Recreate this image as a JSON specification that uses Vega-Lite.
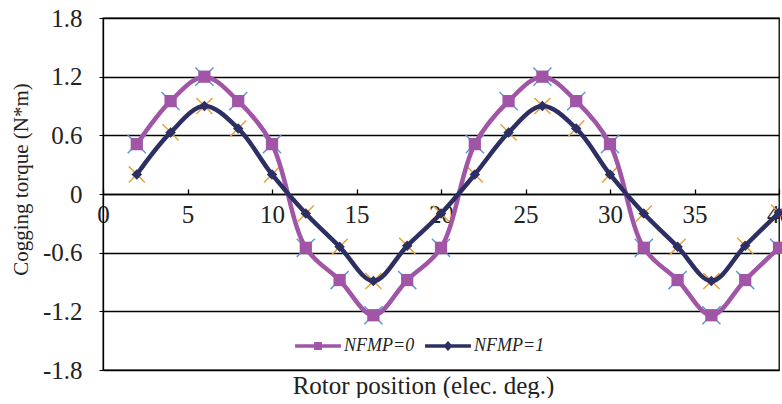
{
  "$schema": "https://vega.github.io/schema/vega-lite/v6.json",
  "width": 676,
  "height": 352,
  "padding": {"left": 10, "top": 6, "right": 0, "bottom": 0},
  "background": "white",
  "config": {
    "font": "Liberation Serif",
    "view": {"stroke": "black", "strokeWidth": 1.3}
  },
  "data": {
    "values": [
      {"position": 2, "series": "NFMP=0", "torque": 0.51},
      {"position": 4, "series": "NFMP=0", "torque": 0.95},
      {"position": 6, "series": "NFMP=0", "torque": 1.2},
      {"position": 8, "series": "NFMP=0", "torque": 0.95},
      {"position": 10, "series": "NFMP=0", "torque": 0.51},
      {"position": 12, "series": "NFMP=0", "torque": -0.55},
      {"position": 14, "series": "NFMP=0", "torque": -0.88},
      {"position": 16, "series": "NFMP=0", "torque": -1.24},
      {"position": 18, "series": "NFMP=0", "torque": -0.88},
      {"position": 20, "series": "NFMP=0", "torque": -0.55},
      {"position": 22, "series": "NFMP=0", "torque": 0.51},
      {"position": 24, "series": "NFMP=0", "torque": 0.95},
      {"position": 26, "series": "NFMP=0", "torque": 1.2},
      {"position": 28, "series": "NFMP=0", "torque": 0.95},
      {"position": 30, "series": "NFMP=0", "torque": 0.51},
      {"position": 32, "series": "NFMP=0", "torque": -0.55},
      {"position": 34, "series": "NFMP=0", "torque": -0.88},
      {"position": 36, "series": "NFMP=0", "torque": -1.24},
      {"position": 38, "series": "NFMP=0", "torque": -0.88},
      {"position": 40, "series": "NFMP=0", "torque": -0.55},
      {"position": 2, "series": "NFMP=1", "torque": 0.2},
      {"position": 4, "series": "NFMP=1", "torque": 0.63},
      {"position": 6, "series": "NFMP=1", "torque": 0.9},
      {"position": 8, "series": "NFMP=1", "torque": 0.67},
      {"position": 10, "series": "NFMP=1", "torque": 0.2},
      {"position": 12, "series": "NFMP=1", "torque": -0.2},
      {"position": 14, "series": "NFMP=1", "torque": -0.54},
      {"position": 16, "series": "NFMP=1", "torque": -0.89},
      {"position": 18, "series": "NFMP=1", "torque": -0.53},
      {"position": 20, "series": "NFMP=1", "torque": -0.2},
      {"position": 22, "series": "NFMP=1", "torque": 0.2},
      {"position": 24, "series": "NFMP=1", "torque": 0.63},
      {"position": 26, "series": "NFMP=1", "torque": 0.9},
      {"position": 28, "series": "NFMP=1", "torque": 0.67},
      {"position": 30, "series": "NFMP=1", "torque": 0.2},
      {"position": 32, "series": "NFMP=1", "torque": -0.2},
      {"position": 34, "series": "NFMP=1", "torque": -0.54},
      {"position": 36, "series": "NFMP=1", "torque": -0.89},
      {"position": 38, "series": "NFMP=1", "torque": -0.53},
      {"position": 40, "series": "NFMP=1", "torque": -0.19}
    ]
  },
  "encoding": {
    "x": {
      "field": "position",
      "type": "quantitative",
      "scale": {"domain": [0, 40], "nice": false, "zero": false},
      "axis": {
        "title": "Rotor position (elec. deg.)",
        "values": [0, 5, 10, 15, 20, 25, 30, 35, 40],
        "offset": -176,
        "grid": false,
        "domainColor": "black",
        "domainWidth": 1.3,
        "tickColor": "black",
        "tickWidth": 1.3,
        "tickSize": -5,
        "labelPadding": 13,
        "labelFlush": false,
        "labelFont": "Liberation Serif",
        "labelFontSize": 25,
        "labelColor": "#222222",
        "titleFont": "Liberation Serif",
        "titleFontSize": 25,
        "titleFontWeight": "normal",
        "titleColor": "#222222",
        "titleBaseline": "top",
        "titleX": 320,
        "titleY": 179
      }
    },
    "y": {
      "field": "torque",
      "type": "quantitative",
      "scale": {"domain": [-1.8, 1.8], "nice": false, "zero": false},
      "axis": {
        "title": "Cogging torque (N*m)",
        "values": [-1.8, -1.2, -0.6, 0, 0.6, 1.2, 1.8],
        "labelExpr": "toString(datum.value)",
        "grid": true,
        "gridColor": "black",
        "gridOpacity": 1,
        "gridWidth": 1.3,
        "domainColor": "black",
        "domainWidth": 1.3,
        "tickColor": "black",
        "tickSize": 4,
        "labelPadding": 17,
        "labelFont": "Liberation Serif",
        "labelFontSize": 25,
        "labelColor": "#222222",
        "titleFont": "Liberation Serif",
        "titleFontSize": 21,
        "titleFontWeight": "normal",
        "titleColor": "#222222",
        "titlePadding": 11,
        "titleY": 161
      }
    }
  },
  "layer": [
    {
      "transform": [{"filter": "datum.series === 'NFMP=0'"}],
      "mark": {"type": "point", "shape": "M-1,-1L1,1M-1,1L1,-1", "filled": false, "stroke": "#5B9BD5", "strokeWidth": 1.5, "size": 330, "opacity": 1}
    },
    {
      "transform": [{"filter": "datum.series === 'NFMP=1'"}],
      "mark": {"type": "point", "shape": "M-1,-1L1,1M-1,1L1,-1", "filled": false, "stroke": "#E8A33A", "strokeWidth": 1.5, "size": 260, "opacity": 1}
    },
    {
      "transform": [{"filter": "datum.series === 'NFMP=0'"}],
      "mark": {"type": "line", "interpolate": "catmull-rom", "color": "#A055A6", "strokeWidth": 4.5}
    },
    {
      "transform": [{"filter": "datum.series === 'NFMP=1'"}],
      "mark": {"type": "line", "interpolate": "catmull-rom", "color": "#2D2F62", "strokeWidth": 4.5}
    },
    {
      "transform": [{"filter": "datum.series === 'NFMP=0'"}],
      "mark": {"type": "point", "shape": "square", "filled": true, "color": "#A055A6", "size": 150, "opacity": 1}
    },
    {
      "transform": [{"filter": "datum.series === 'NFMP=1'"}],
      "mark": {"type": "point", "shape": "diamond", "filled": true, "color": "#2D2F62", "size": 110, "opacity": 1}
    },
    {
      "mark": {"type": "point", "filled": true, "opacity": 0},
      "encoding": {
        "color": {
          "field": "series",
          "type": "nominal",
          "scale": {"domain": ["NFMP=0", "NFMP=1"], "range": ["#A055A6", "#2D2F62"]},
          "legend": {
            "orient": "none",
            "direction": "horizontal",
            "legendX": 192,
            "legendY": 305,
            "title": null,
            "symbolSize": 2100,
            "symbolOpacity": 1,
            "symbolStrokeWidth": 0,
            "labelFont": "Liberation Serif",
            "labelFontSize": 18,
            "labelFontStyle": "italic",
            "labelColor": "#222222",
            "labelOffset": 3,
            "columnPadding": 10
          }
        },
        "shape": {
          "field": "series",
          "type": "nominal",
          "scale": {
            "domain": ["NFMP=0", "NFMP=1"],
            "range": [
              "M-1,-0.075H1V0.075H-1Z M-0.17,-0.17H0.17V0.17H-0.17Z",
              "M-1,-0.075H1V0.075H-1Z M0,-0.22L0.2,0L0,0.22L-0.2,0Z"
            ]
          },
          "legend": {
            "orient": "none",
            "direction": "horizontal",
            "legendX": 192,
            "legendY": 305,
            "title": null,
            "symbolSize": 2100,
            "symbolOpacity": 1,
            "symbolStrokeWidth": 0,
            "labelFont": "Liberation Serif",
            "labelFontSize": 18,
            "labelFontStyle": "italic",
            "labelColor": "#222222",
            "labelOffset": 3,
            "columnPadding": 10
          }
        }
      }
    }
  ]
}
